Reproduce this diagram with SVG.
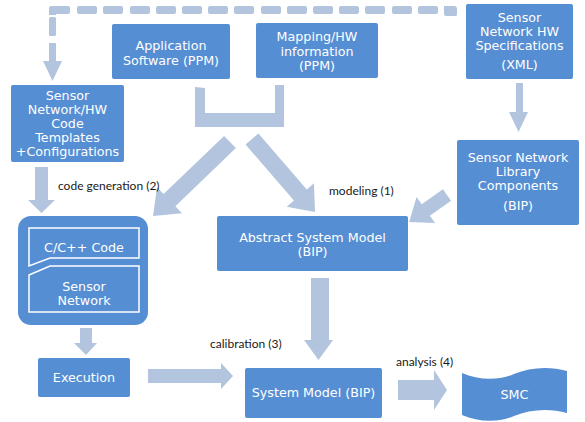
<svg xmlns="http://www.w3.org/2000/svg" width="585" height="422" viewBox="0 0 585 422">
<defs>
<style>
.box{fill:#568ED4;}
.bt{font-family:"DejaVu Sans",Verdana,sans-serif;font-size:12.7px;fill:#ffffff;text-anchor:middle;}
.lbl{font-family:Lato,"Liberation Sans",sans-serif;font-size:12px;fill:#1a1a1a;}
.arr{fill:#B3C4DE;}
.inner{fill:none;stroke:#ffffff;stroke-width:1.5;}
</style>
</defs>
<rect width="585" height="422" fill="#ffffff"/>

<g id="connectors">
  <!-- dashed feedback line -->
  <g class="arr">
    <rect x="49" y="6" width="21" height="8" rx="2"/>
    <rect x="77" y="6" width="20" height="8" rx="2"/>
    <rect x="103" y="6" width="20" height="8" rx="2"/>
    <rect x="130" y="6" width="20" height="8" rx="2"/>
    <rect x="156" y="6" width="20" height="8" rx="2"/>
    <rect x="182" y="6" width="20" height="8" rx="2"/>
    <rect x="208" y="6" width="20" height="8" rx="2"/>
    <rect x="234" y="6" width="20" height="8" rx="2"/>
    <rect x="261" y="6" width="20" height="8" rx="2"/>
    <rect x="287" y="6" width="20" height="8" rx="2"/>
    <rect x="313" y="6" width="20" height="8" rx="2"/>
    <rect x="339" y="6" width="20" height="8" rx="2"/>
    <rect x="365" y="6" width="20" height="8" rx="2"/>
    <rect x="392" y="6" width="20" height="8" rx="2"/>
    <rect x="418" y="6" width="20" height="8" rx="2"/>
    <path d="M444,6 H454 Q457,6 457,9 V15 Q457,16 455,16 H446 Q444,16 444,14 Z"/>
    <rect x="49" y="9" width="7" height="6"/>
    <rect x="49" y="17" width="7" height="19" rx="1.5"/>
    <polygon points="49,43 56,43 56,61 62,61 52.5,81 43,61 49,61"/>
  </g>
  <!-- U bracket -->
  <polygon class="arr" points="195,87 205,88 205,113 275,113 275,85 284,85 284,127 195,127"/>
  <!-- diagonal arrows from bracket -->
  <path class="arr" transform="translate(230,142) rotate(136.1)" d="M0,-8.5 L84,-8.5 L84,-18 L106.8,0 L84,18 L84,8.5 L0,8.5 Z"/>
  <path class="arr" transform="translate(252,139) rotate(49.2)" d="M0,-8.5 L74,-8.5 L74,-18 L96.4,0 L74,18 L74,8.5 L0,8.5 Z"/>
  <!-- library to abstract -->
  <path class="arr" transform="translate(447,195) rotate(144.6)" d="M0,-7 L26,-7 L26,-16 L46.4,0 L26,16 L26,7 L0,7 Z"/>
  <!-- XML to library -->
  <polygon class="arr" points="516,83 523,83 523,112 528,112 518.5,132 509,112 516,112"/>
  <!-- templates down -->
  <polygon class="arr" points="35,167 48,167 48,200 55,200 41.5,213 28,200 35,200"/>
  <!-- container to execution -->
  <polygon class="arr" points="80,328 92,328 92,343 97,343 86,355 74,343 80,343"/>
  <!-- execution to system model -->
  <polygon class="arr" points="148,369 221,369 221,363 233,376 221,389 221,383 148,383"/>
  <!-- abstract to system model -->
  <polygon class="arr" points="311,278 329,278 329,340 333,340 318.5,360 304,340 311,340"/>
  <!-- system model to SMC -->
  <polygon class="arr" points="398,380 434,380 434,370 447,390 434,410 434,400 398,400"/>
</g>

<g id="app-software">
  <rect class="box" x="112" y="24" width="118" height="55" rx="2"/>
  <text class="bt" x="171" y="50">Application</text>
  <text class="bt" x="171" y="65">Software (PPM)</text>
</g>

<g id="mapping-hw">
  <rect class="box" x="256" y="23" width="122" height="55" rx="2"/>
  <text class="bt" x="317" y="41">Mapping/HW</text>
  <text class="bt" x="317" y="56">information</text>
  <text class="bt" x="317" y="70">(PPM)</text>
</g>

<g id="hw-specs">
  <rect class="box" x="466" y="4" width="107" height="75" rx="2"/>
  <text class="bt" x="519.5" y="22">Sensor</text>
  <text class="bt" x="519.5" y="36">Network HW</text>
  <text class="bt" x="519.5" y="50">Specifications</text>
  <text class="bt" x="519.5" y="69">(XML)</text>
</g>

<g id="code-templates">
  <rect class="box" x="11" y="85" width="113" height="77" rx="2"/>
  <text class="bt" x="67.5" y="100">Sensor</text>
  <text class="bt" x="67.5" y="114">Network/HW</text>
  <text class="bt" x="67.5" y="128">Code</text>
  <text class="bt" x="67.5" y="142">Templates</text>
  <text class="bt" x="67.5" y="156">+Configurations</text>
</g>

<g id="library">
  <rect class="box" x="457" y="140" width="122" height="85" rx="2"/>
  <text class="bt" x="518" y="162">Sensor Network</text>
  <text class="bt" x="518" y="176">Library</text>
  <text class="bt" x="518" y="190">Components</text>
  <text class="bt" x="518" y="210">(BIP)</text>
</g>

<g id="abstract-model">
  <rect class="box" x="217" y="216" width="191" height="55" rx="2"/>
  <text class="bt" x="312.5" y="242">Abstract System Model</text>
  <text class="bt" x="312.5" y="256">(BIP)</text>
</g>

<g id="code-container">
  <rect class="box" x="18" y="216" width="130" height="109" rx="13"/>
  <path class="inner" d="M29,228 H139 V258 H50 L29,266 Z"/>
  <text class="bt" x="84" y="252">C/C++ Code</text>
  <path class="inner" d="M29,275 L50,266 H139 V312 H29 Z"/>
  <text class="bt" x="84" y="291">Sensor</text>
  <text class="bt" x="84" y="305">Network</text>
</g>

<g id="execution">
  <rect class="box" x="38" y="358" width="92" height="39" rx="2"/>
  <text class="bt" x="84" y="382">Execution</text>
</g>

<g id="system-model">
  <rect class="box" x="245" y="368" width="137" height="50" rx="2"/>
  <text class="bt" x="313.5" y="397">System Model (BIP)</text>
</g>

<g id="smc">
  <path class="box" d="M462,373 C478,380 498,381 514,374 C530,367 550,366 567,371 L567,413 C550,408 530,409 514,416 C498,423 478,422 462,415 Z"/>
  <text class="bt" x="514.5" y="399">SMC</text>
</g>

<g id="labels">
  <text class="lbl" x="58" y="190">code generation (2)</text>
  <text class="lbl" x="329" y="195">modeling (1)</text>
  <text class="lbl" x="210" y="348">calibration (3)</text>
  <text class="lbl" x="396" y="366">analysis (4)</text>
</g>
</svg>
